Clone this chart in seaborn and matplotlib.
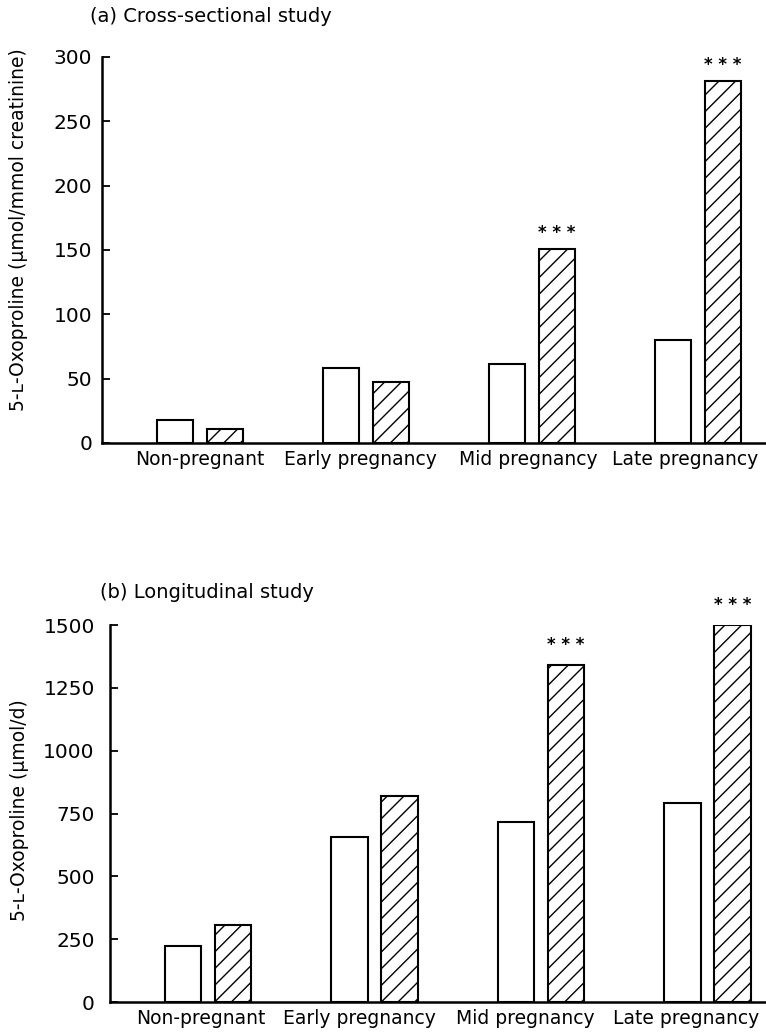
import matplotlib
matplotlib.use("Agg")
import matplotlib.pyplot as plt
import matplotlib.transforms as transforms
import pandas as pd
import seaborn as sns

# data
categories = ["Non-pregnant", "Early pregnancy", "Mid pregnancy", "Late pregnancy"]
groups = ["open", "hatched"]
cross_open = [18, 58, 61, 80]
cross_hatched = [11, 47, 151, 281]
long_open = [222, 655, 715, 793]
long_hatched = [308, 820, 1340, 1500]
signif = ["", "", "* * *", "* * *"]

cross_ticks = [0, 50, 100, 150, 200, 250, 300]
long_ticks = [0, 250, 500, 750, 1000, 1250, 1500]

sns.set_style("white")
plt.rcParams["font.family"] = ["DejaVu Sans"]
plt.rcParams["text.color"] = "black"
plt.rcParams["axes.labelcolor"] = "black"
plt.rcParams["xtick.color"] = "black"
plt.rcParams["ytick.color"] = "black"


def make_df(open_vals, hatched_vals):
    return pd.DataFrame({
        "stage": categories * 2,
        "group": [groups[0]] * 4 + [groups[1]] * 4,
        "value": open_vals + hatched_vals,
    })


def draw_panel(ax, df, ticks, ylabel, label_xy, star_offset, xlim, label_shift, ypad):
    sns.barplot(data=df, x="stage", y="value", hue="group", order=categories,
                hue_order=groups, palette={"open": "white", "hatched": "white"},
                edgecolor="black", linewidth=1.5, width=0.6, gap=0.27,
                errorbar=None, legend=False, ax=ax)
    for bar in ax.containers[1]:
        bar.set_hatch("//")

    # significance stars above the hatched bars
    for bar, s in zip(ax.containers[1], signif):
        if s:
            ax.annotate(s, xy=(bar.get_x() + bar.get_width() / 2, bar.get_height()),
                        xytext=(0, star_offset), textcoords="offset points",
                        ha="center", va="baseline", fontsize=12, fontweight="bold")

    ax.set_xlim(*xlim)
    ax.set_ylim(0, ticks[-1])
    ax.set_yticks(ticks)
    ax.set_xlabel("")
    ax.set_ylabel(ylabel, fontsize=13.5, va="center")
    ax.yaxis.set_label_coords(*label_xy)

    for side in ["top", "right"]:
        ax.spines[side].set_visible(False)
    for side in ["left", "bottom"]:
        ax.spines[side].set_linewidth(1.8)
        ax.spines[side].set_color("black")

    ax.tick_params(axis="y", direction="in", length=6, width=1.3,
                   labelsize=14.5, pad=ypad, left=True)
    ax.tick_params(axis="x", length=0, labelsize=13.5, pad=5)

    # the printed labels sit a little left of the bar pairs
    for lab, dx in zip(ax.get_xticklabels(), label_shift):
        lab.set_transform(lab.get_transform() +
                          transforms.ScaledTranslation(dx / 100, 0, fig.dpi_scale_trans))


fig = plt.figure(figsize=(7.66, 10.34), dpi=100)
ax1 = fig.add_axes([0.1332, 0.5716, 0.8668, 0.3733])
ax2 = fig.add_axes([0.1436, 0.0309, 0.8564, 0.3646])

draw_panel(ax1, make_df(cross_open, cross_hatched), cross_ticks,
           "5-ʟ-Oxoproline (μmol/mmol creatinine)", (-0.1265, 0.552), 8,
           (-0.59, 3.41), [0, -6, -4, -13], 7)
draw_panel(ax2, make_df(long_open, long_hatched), long_ticks,
           "5-ʟ-Oxoproline (μmol/d)", (-0.1387, 0.509), 11,
           (-0.589, 3.35), [-7, -15, -16, -22], 11)

fig.text(90 / 766, 1 - 17 / 1034, "(a) Cross-sectional study",
         ha="left", va="center", fontsize=14)
fig.text(100 / 766, 1 - 593 / 1034, "(b) Longitudinal study",
         ha="left", va="center", fontsize=14)

fig.savefig("out.png", dpi=100)
